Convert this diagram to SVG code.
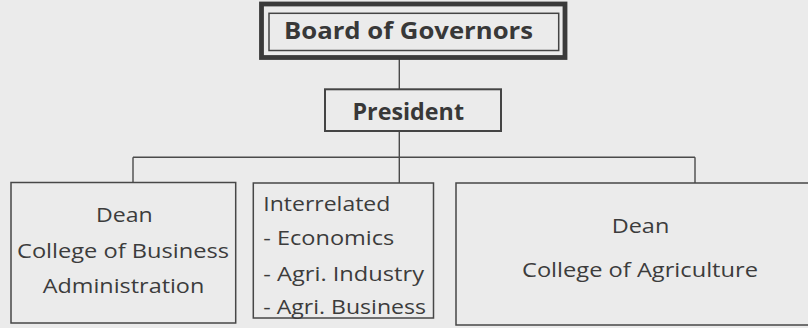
<svg xmlns="http://www.w3.org/2000/svg" width="808" height="328" viewBox="0 0 808 328">
<style>
.box{fill:none;stroke:#474747;stroke-width:1.5}
.con{fill:none;stroke:#4a4a4a;stroke-width:1.4}
.b{font-family:"Open Sans","Liberation Sans",sans-serif;font-weight:700;font-size:23.5px;fill:#383838}
.r{font-family:"Open Sans","Liberation Sans",sans-serif;font-weight:500;font-size:20.5px;fill:#3c3c3c}
</style>
<rect x="0" y="0" width="808" height="328" fill="#ebebeb"/>
<g id="connectors">
<line class="con" x1="399.3" y1="59" x2="399.3" y2="89"/>
<line class="con" x1="399.3" y1="131" x2="399.3" y2="183"/>
<line class="con" x1="133" y1="157.3" x2="695" y2="157.3"/>
<line class="con" x1="133" y1="157.3" x2="133" y2="183"/>
<line class="con" x1="695" y1="157.3" x2="695" y2="183"/>
</g>
<g id="board">
<rect x="261.5" y="4" width="303.5" height="53.5" fill="none" stroke="#3a3a3a" stroke-width="4.8"/>
<rect x="269" y="13.3" width="289.7" height="37.2" fill="none" stroke="#444" stroke-width="1.5"/>
<text class="b" x="284" y="38.5" textLength="249" lengthAdjust="spacingAndGlyphs">Board of Governors</text>
</g>
<g id="president">
<rect x="325" y="89.3" width="176" height="41.7" fill="none" stroke="#444" stroke-width="2"/>
<text class="b" x="352.5" y="120" textLength="111.5" lengthAdjust="spacingAndGlyphs">President</text>
</g>
<g id="dean-business">
<rect class="box" x="11" y="182.5" width="224.7" height="140.5"/>
<text class="r" x="96" y="222" textLength="56.7" lengthAdjust="spacingAndGlyphs">Dean</text>
<text class="r" x="17" y="258.3" textLength="212" lengthAdjust="spacingAndGlyphs">College of Business</text>
<text class="r" x="42.7" y="292.7" textLength="161.6" lengthAdjust="spacingAndGlyphs">Administration</text>
</g>
<g id="interrelated">
<rect class="box" x="253.3" y="183" width="180.2" height="135"/>
<text class="r" x="263.3" y="210.7" textLength="127" lengthAdjust="spacingAndGlyphs">Interrelated</text>
<text class="r" x="263.3" y="245" textLength="131" lengthAdjust="spacingAndGlyphs">- Economics</text>
<text class="r" x="263.3" y="280.5" textLength="160.7" lengthAdjust="spacingAndGlyphs">- Agri. Industry</text>
<text class="r" x="263.3" y="314" textLength="162.7" lengthAdjust="spacingAndGlyphs">- Agri. Business</text>
</g>
<g id="dean-agriculture">
<rect class="box" x="456" y="183" width="360" height="142"/>
<text class="r" x="611.7" y="233.3" textLength="57.6" lengthAdjust="spacingAndGlyphs">Dean</text>
<text class="r" x="522" y="276.7" textLength="236" lengthAdjust="spacingAndGlyphs">College of Agriculture</text>
</g>
</svg>
